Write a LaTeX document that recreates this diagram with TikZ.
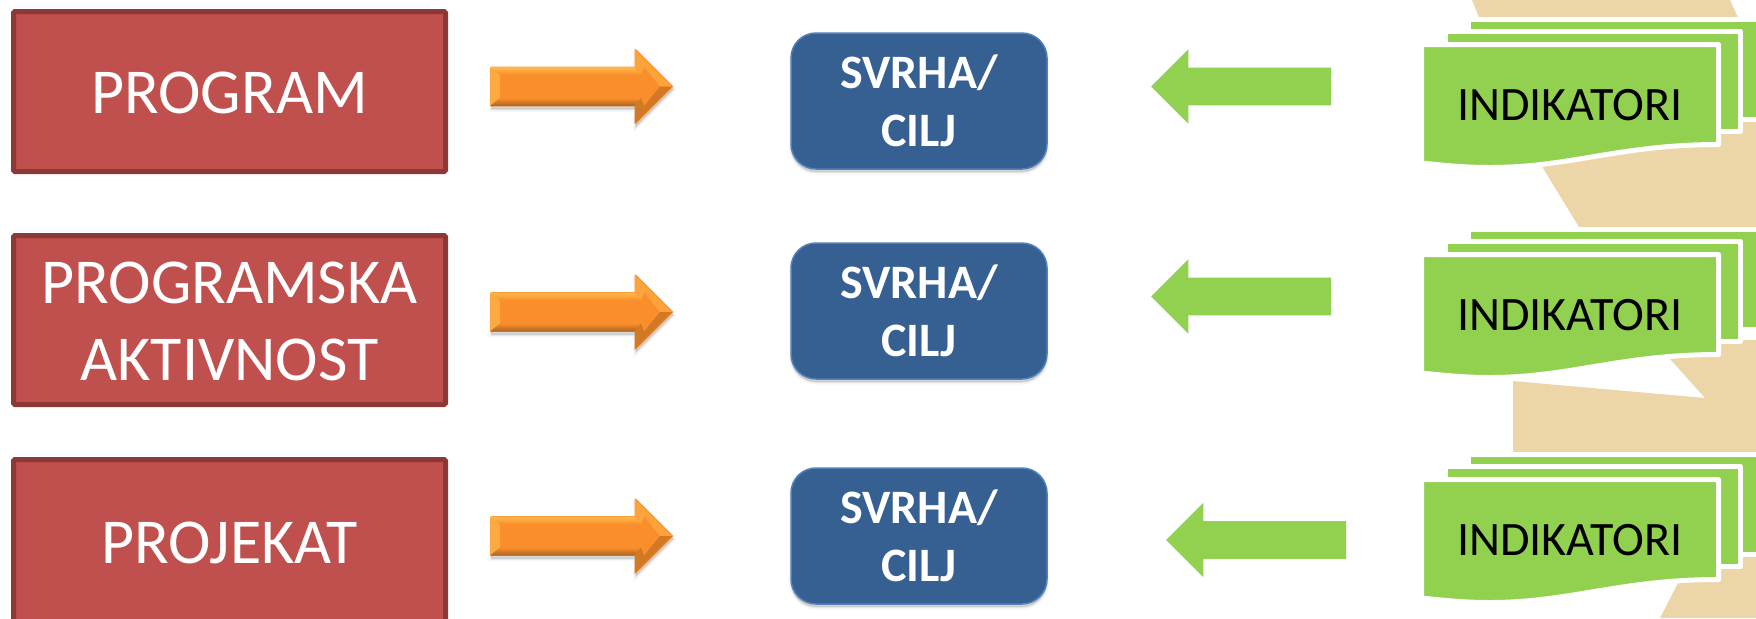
\documentclass[tikz,border=0pt]{standalone}
\usepackage{fontspec}
\setmainfont{Carlito}
\usetikzlibrary{shapes.arrows}
\definecolor{beige}{HTML}{ECD6A8}
\definecolor{leaf}{HTML}{92D050}
\definecolor{brick}{HTML}{C0504D}
\definecolor{brickdark}{HTML}{8C3836}
\definecolor{navy}{HTML}{376092}
\definecolor{navyedge}{HTML}{4F81BD}
\definecolor{amber}{HTML}{FA8E2B}
\definecolor{amberlight}{HTML}{FFCB5C}
\definecolor{amberdark}{HTML}{A86420}
\newlength{\pxu}\setlength{\pxu}{0.5pt}
\newcommand{\capstrut}{\rule{0pt}{22.5pt}}
\tikzset{
  softshadow/.style={
    preaction={draw=black,line width=4\pxu,fill=black,opacity=.03,transform canvas={yshift=-3.5\pxu}},
    preaction={draw=black,line width=2\pxu,fill=black,opacity=.05,transform canvas={yshift=-3\pxu}},
    preaction={fill=black,opacity=.08,transform canvas={yshift=-2.5\pxu}}},
  redbox/.style={draw=brickdark,fill=brick,line width=5\pxu,rounded corners=1.5\pxu,minimum width=432\pxu,
    inner sep=0pt,text=white,align=center,font=\fontsize{32}{38.5}\selectfont},
  bluebox/.style={draw=navyedge,fill=navy,line width=1.5\pxu,rounded corners=25\pxu,minimum width=256\pxu,minimum height=136\pxu,
    inner sep=0pt,text=white,align=center,font=\fontsize{24}{29}\selectfont\bfseries,softshadow},
  orangearrow/.style={single arrow,fill=amber,inner xsep=0pt,inner ysep=19.5\pxu,minimum height=182\pxu,minimum width=75\pxu,
    single arrow head extend=18\pxu,single arrow tip angle=90,softshadow,text height=0pt,text depth=0pt},
  greenarrow/.style={single arrow,fill=leaf,inner xsep=0pt,inner ysep=18.5\pxu,minimum height=180\pxu,minimum width=74\pxu,
    single arrow head extend=18.5\pxu,single arrow tip angle=90,shape border rotate=180,text height=0pt,text depth=0pt},
  sheet/.style={fill=leaf,draw=white,line width=5\pxu,line join=round},
  doclabel/.style={inner sep=0pt,text=black,font=\fontsize{24}{28}\selectfont}
}
\newcommand{\docstack}[2]{%
  \begin{scope}[yshift=-#1\pxu]
    \filldraw[sheet] (1468.5,19.5) rectangle (1790,119.5);
    \filldraw[sheet] (1445.5,31.5) rectangle (1740.5,131.5);
    \filldraw[sheet] (1421.5,44.5) -- (1718.5,44.5) -- (1718.5,144.5)
      .. controls (1620,144.5) and (1570,167.5) .. (1490,167.5)
      .. controls (1465,167.5) and (1445,165.5) .. (1421.5,163) -- cycle;
    \node[doclabel] (#2) at (1570,105.5) {INDIKATORI};
  \end{scope}}
\newcommand{\bevel}[2]{%
  \node[orangearrow] (#1) at (572.5,#2) {};
  \begin{scope}[yshift=-#2\pxu]
    \shade[top color=amberlight!70!amber,bottom color=amber] (490,-19.5) -- (634.5,-19.5) -- (641,-11.5) -- (500,-11.5) -- cycle;
    \fill[amberlight!45!amber] (490,-19.5) -- (500,-11.5) -- (500,11.5) -- (490,19.5) -- cycle;
    \shade[top color=amber,bottom color=amberdark] (490,19.5) -- (634.5,19.5) -- (641,11.5) -- (500,11.5) -- cycle;
    \fill[amberlight!35!amber] (634.5,-37.5) -- (634.5,-19.5) -- (641,-11.5) -- (644,-19.5) -- (660,0) -- (672,0) -- cycle;
    \fill[amberdark!50!amber] (634.5,37.5) -- (634.5,19.5) -- (641,11.5) -- (644,19.5) -- (660,0) -- (672,0) -- cycle;
  \end{scope}}
\begin{document}
\begin{tikzpicture}[x=0.5pt,y=-0.5pt]
  \useasboundingbox (0,0) rectangle (1756,618);
  \clip (0,0) rectangle (1756,618);
  \fill[white] (0,0) rectangle (1756,618);
  % background shape
  \fill[beige] (1472,0) -- (1730,0) -- (1790,130) -- (1790,232) -- (1582,232) -- (1543,168) -- (1490,45) -- cycle;
  \fill[beige] (1653,340) -- (1705,398) -- (1513,381) -- (1513,455) -- (1700,540) -- (1660,618) -- (1790,618) -- (1790,340) -- cycle;
  \fill[beige] (1513,440) rectangle (1790,560);
  % left column
  \node[redbox,minimum height=160\pxu] (program) at (229.5,91.5) {\capstrut PROGRAM};
  \node[redbox,minimum height=169\pxu] (aktivnost) at (229.5,320) {\capstrut PROGRAMSKA\\AKTIVNOST};
  \node[redbox,minimum height=163\pxu] (projekat) at (229.5,541) {\capstrut PROJEKAT};
  % orange arrows
  \bevel{arrowa}{86.5}
  \bevel{arrowb}{312}
  \bevel{arrowc}{536}
  % centre column
  \node[bluebox] (cilja) at (919,101) {SVRHA/\\CILJ};
  \node[bluebox] (ciljb) at (919,311) {SVRHA/\\CILJ};
  \node[bluebox] (ciljc) at (919,536) {SVRHA/\\CILJ};
  % green arrows
  \node[greenarrow] (backa) at (1250.5,86.5) {};
  \node[greenarrow] (backb) at (1250.5,296.5) {};
  \node[greenarrow] (backc) at (1265.5,540) {};
  % document stacks
  \docstack{0}{inda}
  \docstack{210}{indb}
  \docstack{435}{indc}
\end{tikzpicture}
\end{document}
